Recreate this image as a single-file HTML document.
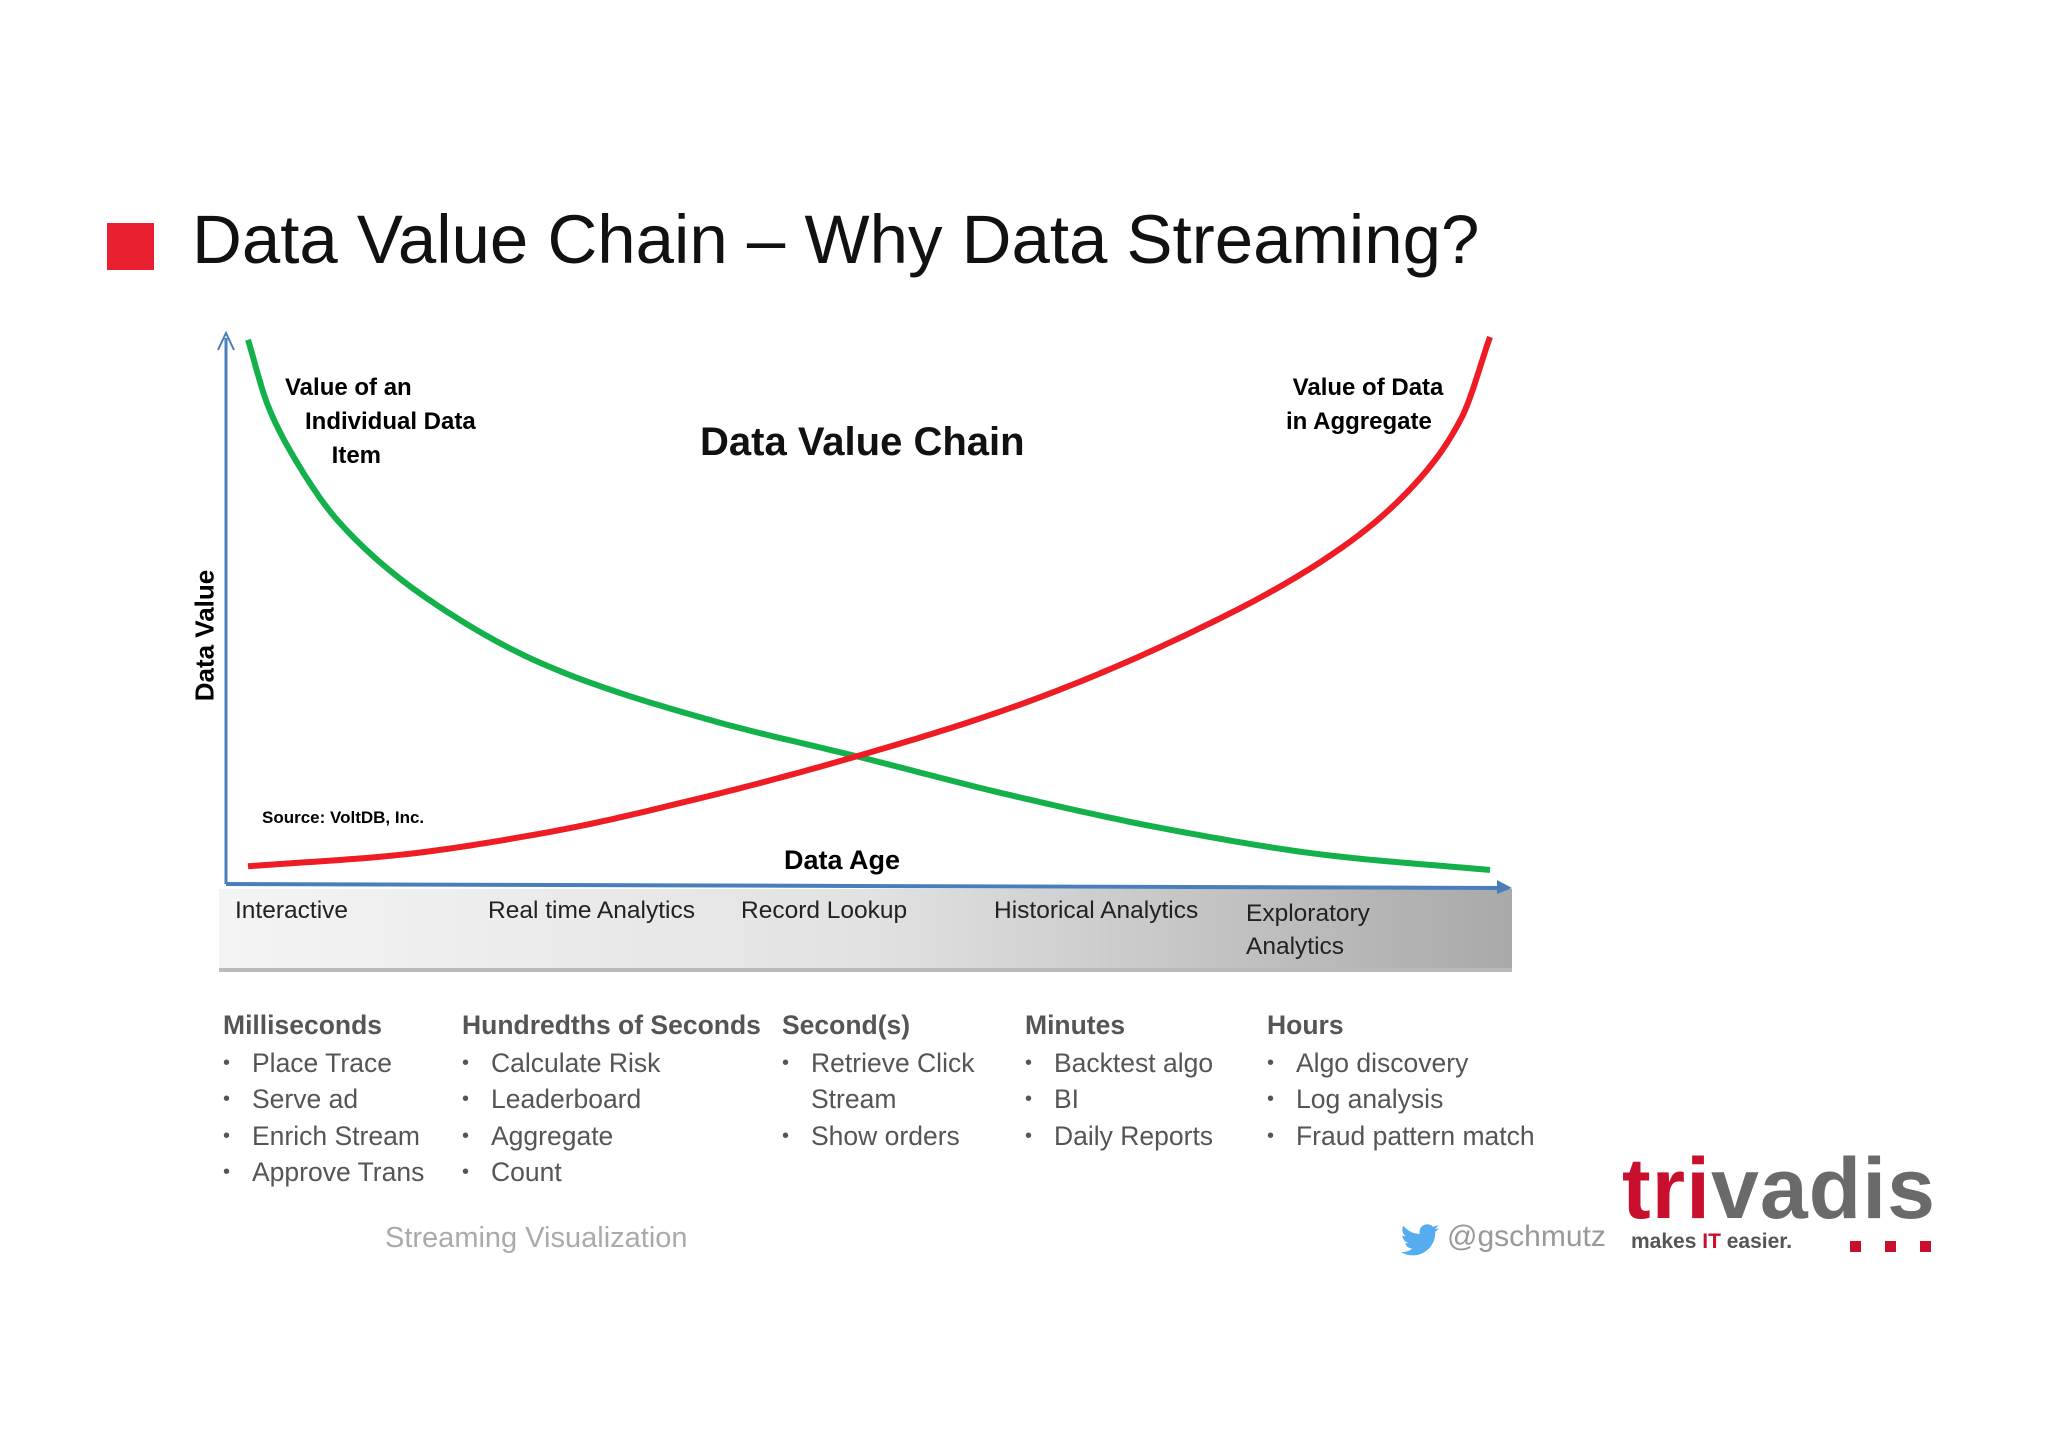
<!DOCTYPE html>
<html><head><meta charset="utf-8">
<style>
body{margin:0;background:#fff;}
#page{position:relative;width:2048px;height:1447px;overflow:hidden;background:#fff;font-family:"Liberation Sans",sans-serif;}
.t{position:absolute;white-space:nowrap;}
.lst{position:absolute;font-size:26.5px;color:#555;line-height:36.5px;}
.lst b{display:block;font-weight:bold;margin-bottom:1px;}
.lst div{padding-left:29px;position:relative;}
.lst div.b:before{content:"•";position:absolute;left:0;font-size:20px;}
</style></head><body>
<div id="page">
<div style="position:absolute;left:107px;top:223px;width:47px;height:47px;background:#e8202f"></div>
<div class="t" style="left:192px;top:200px;font-size:69px;color:#111">Data Value Chain – Why Data Streaming?</div>

<svg id="chart" width="2048" height="1447" style="position:absolute;left:0;top:0">
<defs><linearGradient id="band" x1="0" x2="1" y1="0" y2="0"><stop offset="0" stop-color="#f4f4f4"/><stop offset="0.5" stop-color="#e2e2e2"/><stop offset="1" stop-color="#a9a9a9"/></linearGradient></defs>
<rect x="219" y="889" width="1293" height="81" fill="url(#band)"/>
<rect x="219" y="968" width="1293" height="4" fill="#bbb"/>
<line x1="226" y1="884" x2="226" y2="338" stroke="#4a7ebb" stroke-width="3"/>
<path d="M218 350 L226 333 L234 350" fill="none" stroke="#4a7ebb" stroke-width="2"/>
<line x1="226" y1="884" x2="1505" y2="888" stroke="#4a7ebb" stroke-width="4"/>
<path d="M1497 880 L1512 888 L1497 894" fill="#4a7ebb"/>
<g id="curves"></g>
</svg>

<div class="t" style="left:285px;top:371px;font-size:24px;font-weight:bold;line-height:34px">Value of an<br>&nbsp;&nbsp;&nbsp;Individual Data<br>&nbsp;&nbsp;&nbsp;&nbsp;&nbsp;&nbsp;&nbsp;Item</div>
<div class="t" style="left:700px;top:420px;font-size:40px;font-weight:bold;color:#111">Data Value Chain</div>
<div class="t" style="left:1286px;top:371px;font-size:24px;font-weight:bold;line-height:34px">&nbsp;Value of Data<br>in Aggregate</div>
<div class="t" style="left:135px;top:620px;width:140px;text-align:center;font-size:26px;font-weight:bold;transform:rotate(-90deg)">Data Value</div>
<div class="t" style="left:262px;top:808px;font-size:17px;font-weight:bold">Source: VoltDB, Inc.</div>
<div class="t" style="left:784px;top:845px;font-size:27px;font-weight:bold">Data Age</div>

<div class="t" style="left:235px;top:897px;font-size:24.5px;color:#222">Interactive</div>
<div class="t" style="left:488px;top:897px;font-size:24.5px;color:#222">Real time Analytics</div>
<div class="t" style="left:741px;top:897px;font-size:24.5px;color:#222">Record Lookup</div>
<div class="t" style="left:994px;top:897px;font-size:24.5px;color:#222">Historical Analytics</div>
<div class="t" style="left:1246px;top:897px;font-size:24.5px;color:#222;line-height:33px">Exploratory<br>Analytics</div>

<div class="lst" style="left:223px;top:1007px"><b>Milliseconds</b><div class="b">Place Trace</div><div class="b">Serve ad</div><div class="b">Enrich Stream</div><div class="b">Approve Trans</div></div>
<div class="lst" style="left:462px;top:1007px"><b>Hundredths of Seconds</b><div class="b">Calculate Risk</div><div class="b">Leaderboard</div><div class="b">Aggregate</div><div class="b">Count</div></div>
<div class="lst" style="left:782px;top:1007px"><b>Second(s)</b><div class="b">Retrieve Click</div><div>Stream</div><div class="b">Show orders</div></div>
<div class="lst" style="left:1025px;top:1007px"><b>Minutes</b><div class="b">Backtest algo</div><div class="b">BI</div><div class="b">Daily Reports</div></div>
<div class="lst" style="left:1267px;top:1007px"><b>Hours</b><div class="b">Algo discovery</div><div class="b">Log analysis</div><div class="b">Fraud pattern match</div></div>

<div class="t" style="left:385px;top:1222px;font-size:29px;color:#aaa">Streaming Visualization</div>
<svg style="position:absolute;left:1398px;top:1220px" width="44" height="42" viewBox="0 0 24 24"><path fill="#55acee" d="M23 4.6c-.8.4-1.7.6-2.6.7.9-.6 1.6-1.4 2-2.5-.9.5-1.9.9-2.9 1.1A4.5 4.5 0 0 0 11.8 8 12.8 12.8 0 0 1 2.5 3.3a4.5 4.5 0 0 0 1.4 6c-.7 0-1.4-.2-2-.6 0 2.2 1.6 4 3.6 4.4-.7.2-1.4.2-2 .1.6 1.8 2.2 3.1 4.2 3.1A9 9 0 0 1 1 18.2 12.8 12.8 0 0 0 20.7 7.4v-.6c.9-.6 1.6-1.4 2.3-2.2z"/></svg>
<div class="t" style="left:1447px;top:1220px;font-size:30px;color:#999">@gschmutz</div>
<div class="t" style="left:1622px;top:1140px;font-size:86px;font-weight:bold;letter-spacing:1px"><span style="color:#c8102e">tri</span><span style="color:#6a6a6a">vadis</span></div>
<div class="t" style="left:1631px;top:1230px;font-size:21px;font-weight:bold;color:#555">makes <span style="color:#c8102e">IT</span> easier.</div>
<div style="position:absolute;left:1850px;top:1241px;width:11px;height:11px;background:#c8102e;box-shadow:35px 0 #c8102e,70px 0 #c8102e"></div>
</div>
<script>
const greenX=[0,.0158,.0368,.0736,.147,.242,.368,.494,.620,.746,.872,1];
const greenY=[99.5,87.3,77.5,65.2,50.5,38.2,28.4,21.1,13.7,7.4,2.7,0];
const redX=[0,.116,.242,.368,.494,.620,.746,.872,.935,.977,1];
const redY=[0.7,2.7,7.1,13.7,21.6,30.9,43.1,59.1,71.3,84.8,100];
function sx(v){return 248+v*(1490-248);}
function sy(v){return 870-v*(870-337)/100;}
function monotone(xs,ys){
  const n=xs.length,d=[],m=[];
  for(let i=0;i<n-1;i++)d.push((ys[i+1]-ys[i])/(xs[i+1]-xs[i]));
  m[0]=d[0];m[n-1]=d[n-2];
  for(let i=1;i<n-1;i++){
    if(d[i-1]*d[i]<=0)m[i]=0;
    else{const h0=xs[i]-xs[i-1],h1=xs[i+1]-xs[i];const w1=2*h1+h0,w2=h1+2*h0;m[i]=(w1+w2)/(w1/d[i-1]+w2/d[i]);}
  }
  const pts=[];
  for(let i=0;i<n-1;i++){
    const h=xs[i+1]-xs[i];
    for(let k=0;k<20;k++){
      const t=k/20,t2=t*t,t3=t2*t;
      const y=(2*t3-3*t2+1)*ys[i]+(t3-2*t2+t)*h*m[i]+(-2*t3+3*t2)*ys[i+1]+(t3-t2)*h*m[i+1];
      pts.push([sx(xs[i]+t*h),sy(y)]);
    }
  }
  pts.push([sx(xs[n-1]),sy(ys[n-1])]);
  return 'M'+pts.map(p=>p[0].toFixed(1)+' '+p[1].toFixed(1)).join(' L');
}
const g=document.getElementById('curves');
[[greenX,greenY,'#13b04b','green-curve-individual-value'],[redX,redY,'#ee1c25','red-curve-aggregate-value']].forEach(s=>{
  const el=document.createElementNS('http://www.w3.org/2000/svg','path');
  el.setAttribute('d',monotone(s[0],s[1]));
  el.setAttribute('fill','none');el.setAttribute('stroke',s[2]);el.setAttribute('stroke-width','6');el.setAttribute('stroke-linejoin','round');
  
  
  g.appendChild(el);
});
</script>
</body></html>
